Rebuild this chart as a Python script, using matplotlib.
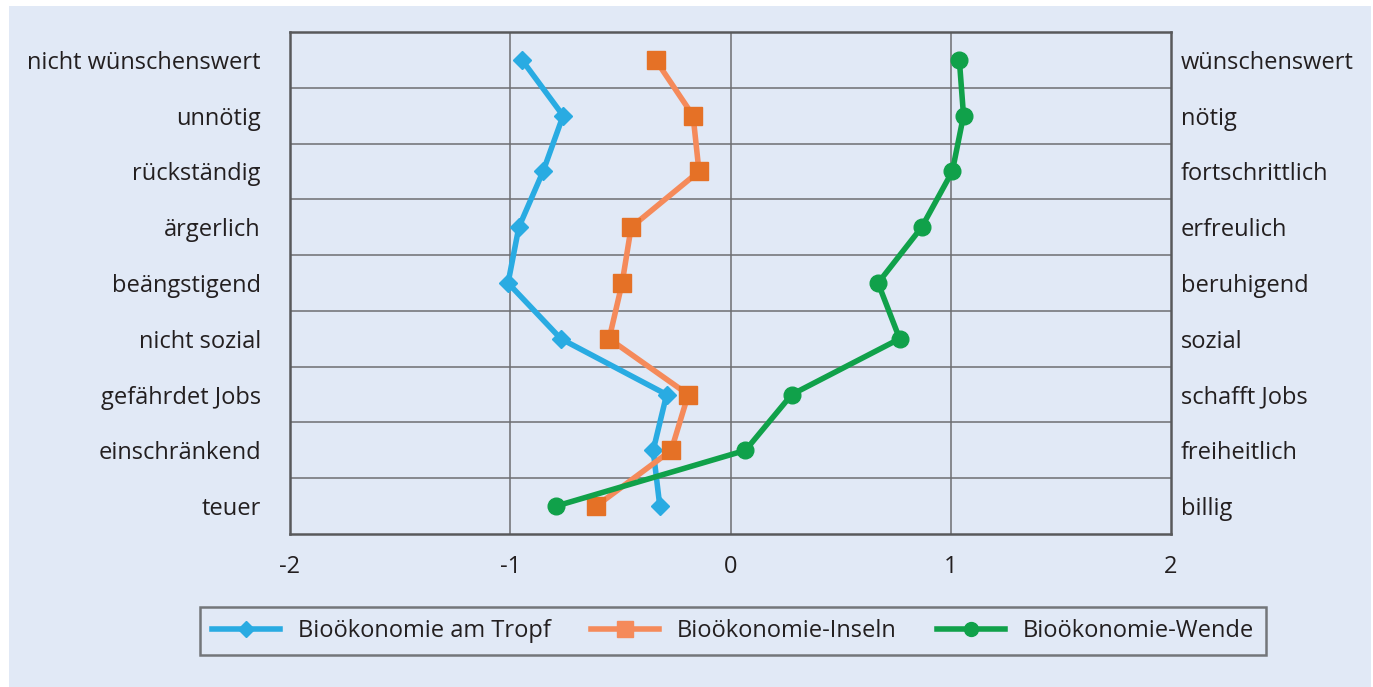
import matplotlib
matplotlib.use("Agg")
import matplotlib.pyplot as plt
from matplotlib.patches import Rectangle
from matplotlib.lines import Line2D
import numpy as np

# Semantic differential: negative pole (left), positive pole (right)
left_labels = ["nicht wünschenswert", "unnötig", "rückständig", "ärgerlich",
               "beängstigend", "nicht sozial", "gefährdet Jobs",
               "einschränkend", "teuer"]
right_labels = ["wünschenswert", "nötig", "fortschrittlich", "erfreulich",
                "beruhigend", "sozial", "schafft Jobs", "freiheitlich",
                "billig"]

series_names = ["Bioökonomie am Tropf", "Bioökonomie-Inseln",
                "Bioökonomie-Wende"]
tropf = [-0.947, -0.760, -0.851, -0.961, -1.010, -0.770, -0.290, -0.351, -0.321]
inseln = [-0.340, -0.170, -0.143, -0.451, -0.492, -0.551, -0.192, -0.269, -0.610]
wende = [1.039, 1.058, 1.007, 0.868, 0.670, 0.768, 0.278, 0.068, -0.792]

x_ticks = [-2, -1, 0, 1, 2]

bg = "#e1e9f6"
txt = "#231f20"
gridc = "#6d6e71"
fs = 17

plt.rcParams['font.family'] = ['Open Sans', 'DejaVu Sans']

fig = plt.figure(figsize=(13.73, 6.87), dpi=100)
fig.patch.set_facecolor("white")
fig.patches.append(Rectangle((9/1373, 0), (1371-9)/1373, (687-6)/687,
                             transform=fig.transFigure, facecolor=bg,
                             edgecolor="none", zorder=-10))

ax = fig.add_axes([290/1373, (687-534)/687, 881/1373, 502/687])
ax.set_facecolor(bg)

rows = np.arange(len(left_labels)) + 0.5

ax.plot(tropf, rows, color="#29abe2", lw=4, marker="D", ms=9,
        mfc="#29abe2", mec="#29abe2", zorder=3)
ax.plot(inseln, rows, color="#f58a5a", lw=4, marker="s", ms=13,
        mfc="#e57126", mec="#e57126", zorder=3)
ax.plot(wende, rows, color="#10a14a", lw=4, marker="o", ms=12,
        mfc="#10a14a", mec="#10a14a", zorder=3)

ax.set_xlim(-2, 2)
ax.set_ylim(len(left_labels), 0)
ax.set_xticks(x_ticks)
ax.set_xticklabels([str(v) for v in x_ticks], fontsize=fs, color=txt)
ax.set_yticks(rows)
ax.set_yticklabels(left_labels, fontsize=fs, color=txt)
ax.tick_params(axis="both", which="both", length=0)
ax.tick_params(axis="x", pad=15)
ax.tick_params(axis="y", pad=21)

for v in [-1, 0, 1]:
    ax.axvline(v, color=gridc, lw=1.1, zorder=1)
for h in range(1, len(left_labels)):
    ax.axhline(h, color=gridc, lw=1.1, zorder=1)

for s in ax.spines.values():
    s.set_color("#58595b")
    s.set_linewidth(1.8)

ax2 = ax.twinx()
ax2.set_ylim(ax.get_ylim())
ax2.set_yticks(rows)
ax2.set_yticklabels(right_labels, fontsize=fs, color=txt)
ax2.tick_params(axis="y", length=0, pad=7)
for s in ax2.spines.values():
    s.set_visible(False)

handles = [
    Line2D([], [], color="#29abe2", lw=4, marker="D", ms=8, mfc="#29abe2", mec="#29abe2"),
    Line2D([], [], color="#f58a5a", lw=4, marker="s", ms=11, mfc="#f58a5a", mec="#f58a5a"),
    Line2D([], [], color="#10a14a", lw=4, marker="o", ms=10, mfc="#10a14a", mec="#10a14a"),
]
leg = fig.legend(handles, series_names, loc="center",
                 bbox_to_anchor=(733/1373, 1 - 631/687), ncol=3,
                 fontsize=fs, frameon=True, fancybox=False,
                 handlelength=2.9, columnspacing=1.7, borderpad=0.5,
                 handletextpad=0.75, borderaxespad=0)
leg.get_frame().set_facecolor(bg)
leg.get_frame().set_edgecolor("#58595b")
leg.get_frame().set_linewidth(1.8)
for t in leg.get_texts():
    t.set_color(txt)

fig.savefig("out.png", dpi=100, facecolor=fig.get_facecolor())
